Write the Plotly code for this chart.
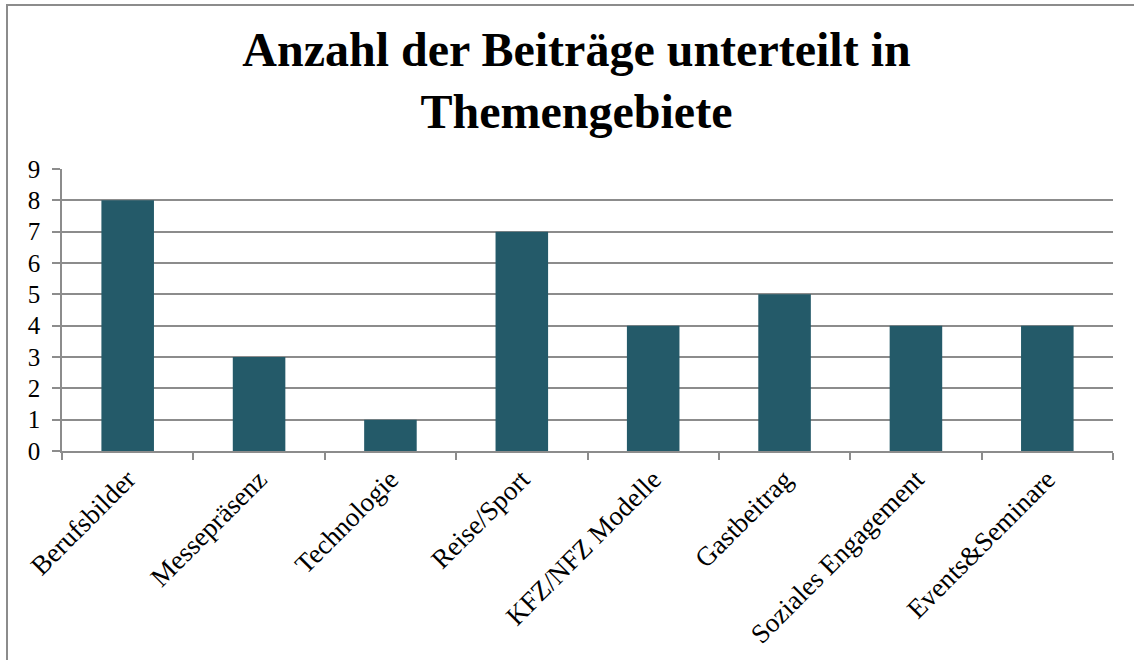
import plotly.graph_objects as go

categories = ["Berufsbilder", "Messepräsenz", "Technologie", "Reise/Sport",
              "KFZ/NFZ Modelle", "Gastbeitrag", "Soziales Engagement", "Events&Seminare"]
values = [8, 3, 1, 7, 4, 5, 4, 4]
y_ticks = list(range(0, 10))
title_text = "Anzahl der Beiträge unterteilt in<br>Themengebiete"

W, H = 1134, 660
L, R, T, B = 62, 21, 169, 209
pw, ph = W - L - R, H - T - B

FONT = "Liberation Serif, Times New Roman, serif"
GRID = "#8c8c8c"

fig = go.Figure(go.Bar(
    x=categories, y=values,
    marker=dict(color="#245A69", line=dict(width=0)),
    width=0.4,
))

fig.update_layout(
    width=W, height=H,
    margin=dict(l=L, r=R, t=T, b=B, autoexpand=False),
    paper_bgcolor="white", plot_bgcolor="white",
    font=dict(family=FONT, color="black"),
    title=dict(text=title_text, xref="container", x=576.5 / W, xanchor="center",
               y=1 - 66 / H, yanchor="top",
               font=dict(family=FONT, size=48, color="black", weight="bold")),
    showlegend=False,
    bargap=0.6,
)
fig.update_xaxes(
    type="category", showgrid=False, showline=True, linecolor=GRID, linewidth=1.5,
    ticks="outside", ticklen=7, tickcolor=GRID, tickwidth=1.5, tickson="boundaries",
    tickangle=-45, tickfont=dict(family=FONT, size=27, color="black"),
    range=[-0.5, len(categories) - 0.5], automargin=False,
)
fig.update_yaxes(
    range=[0, 9], tickvals=y_ticks, showgrid=True, gridcolor=GRID, gridwidth=1.5,
    showline=True, linecolor=GRID, linewidth=1.5, zeroline=False,
    ticks="outside", ticklen=8, tickcolor=GRID, tickwidth=1.5,
    ticklabelstandoff=7, automargin=False,
    tickfont=dict(family=FONT, size=25, color="black"),
)

# outer chart border (left and top visible, right/bottom off-canvas)
fig.add_shape(type="rect", xref="paper", yref="paper",
              x0=(7 - L) / pw, x1=(W + 20 - L) / pw,
              y0=-(B + 20) / ph, y1=(H - B - 5) / ph,
              line=dict(color="#8c8c8c", width=2), fillcolor="rgba(0,0,0,0)", layer="below")

fig.write_html("out.html", config={"displayModeBar": False},
               post_script="document.body.style.margin='0';")
